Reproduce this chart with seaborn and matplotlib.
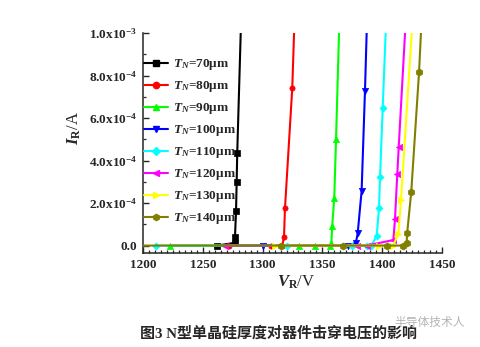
import matplotlib
matplotlib.use("Agg")
import matplotlib.pyplot as plt
from matplotlib.lines import Line2D
from matplotlib.ticker import MultipleLocator, FixedLocator, FixedFormatter
import seaborn as sns

sns.set_style("ticks")
plt.rcParams['font.family'] = ['Liberation Serif', 'Noto Sans CJK SC']
plt.rcParams['font.weight'] = 'bold'
plt.rcParams['mathtext.fontset'] = 'custom'
plt.rcParams['mathtext.rm'] = 'Liberation Serif:bold'
plt.rcParams['mathtext.it'] = 'Liberation Serif:italic:bold'
plt.rcParams['mathtext.bf'] = 'Liberation Serif:bold'

# ---------------- data (V in volts, I in amperes) ----------------
V70 = [1262, 1276.9, 1276.9, 1277.8, 1278.3, 1278.8, 1281.7]
I70 = [0, 1.3e-5, 3.9e-5, 1.64e-4, 2.97e-4, 4.37e-4, 1.0e-3]

V80 = [1272, 1307, 1316.5, 1317.9, 1318.7, 1324.8, 1326.3]
I80 = [0, 0, 0, 4.1e-5, 1.75e-4, 7.40e-4, 1.0e-3]

V90 = [1222.6, 1330.4, 1343.8, 1356.4, 1357.5, 1358.2, 1359.9, 1361.4, 1363.9]
I90 = [0, 0, 0, 0, 1.2e-5, 9.3e-5, 2.22e-4, 5.00e-4, 1.0e-3]

V100 = [1300.6, 1371.5, 1378.0, 1379.5, 1382.8, 1385.6, 1387.0]
I100 = [0, 0, 1.3e-5, 5.7e-5, 2.58e-4, 7.28e-4, 1.0e-3]

V110 = [1211, 1320, 1375, 1387, 1391, 1395.4, 1397.3, 1398.2, 1400.4, 1402.9]
I110 = [0, 0, 0, 0, 0, 4.5e-5, 1.75e-4, 3.24e-4, 6.46e-4, 1.0e-3]

V120 = [1268.6, 1378.7, 1387, 1409.3, 1410.7, 1412.6, 1413.8, 1419.1]
I120 = [0, 0, 0, 2.6e-5, 1.25e-4, 3.36e-4, 4.62e-4, 1.0e-3]

V130 = [1310.4, 1397, 1409, 1413.5, 1415.7, 1424.7]
I130 = [0, 0, 0, 5.3e-5, 2.14e-4, 1.0e-3]

V140 = [1200, 1315, 1367, 1403.7, 1417.7, 1420.4, 1420.9, 1424.3, 1430.8, 1432.4]
I140 = [0, 0, 0, 0, 0, 1.3e-5, 6.0e-5, 2.53e-4, 8.15e-4, 1.0e-3]

labels = [r"$T_N$=70μm", r"$T_N$=80μm", r"$T_N$=90μm", r"$T_N$=100μm",
          r"$T_N$=110μm", r"$T_N$=120μm", r"$T_N$=130μm", r"$T_N$=140μm"]

x_ticks = [1200, 1250, 1300, 1350, 1400, 1450]
x_tick_labels = ["1200", "1250", "1300", "1350", "1400", "1450"]
y_ticks = [0, 2e-4, 4e-4, 6e-4, 8e-4, 1e-3]
y_tick_labels = ["0.0", "2.0x10$^{-4}$", "4.0x10$^{-4}$", "6.0x10$^{-4}$",
                 "8.0x10$^{-4}$", "1.0x10$^{-3}$"]

series = [(V70, I70), (V80, I80), (V90, I90), (V100, I100),
          (V110, I110), (V120, I120), (V130, I130), (V140, I140)]
colors = ['#000000', '#FF0000', '#00FF00', '#0000FF',
          '#00FFFF', '#FF00FF', '#FFFF00', '#808000']
markers = ['s', 'o', '^', 'v', 'D', '<', '>', 'h']
msizes = [13, 14, 20, 20, 13, 20, 20, 26]

# ---------------- figure ----------------
fig = plt.figure(figsize=(4.8, 3.47), dpi=100)
ax = fig.add_axes([143/480, 1-253/347, (442-143)/480, (253-33)/347])

for k, ((V, I), c, m, s) in enumerate(zip(series, colors, markers, msizes)):
    sns.lineplot(x=V, y=I, ax=ax, color=c, lw=1.5, sort=False,
                 estimator=None, zorder=3+2*k, legend=False)
    mv = [v for v, i in zip(V, I) if v > 1200 and i < 1e-3]
    mi = [i for v, i in zip(V, I) if v > 1200 and i < 1e-3]
    sns.scatterplot(x=mv, y=mi, ax=ax, color=c, marker=m, s=s,
                    edgecolor=c, linewidth=0.5, zorder=4+2*k, legend=False)

ax.set_xlim(1200, 1450)
ax.set_ylim(-3.5e-5, 1.0e-3)
ax.xaxis.set_major_locator(FixedLocator(x_ticks))
ax.xaxis.set_major_formatter(FixedFormatter(x_tick_labels))
ax.xaxis.set_minor_locator(MultipleLocator(5))
ax.yaxis.set_major_locator(FixedLocator(y_ticks))
ax.yaxis.set_major_formatter(FixedFormatter(y_tick_labels))
ax.yaxis.set_minor_locator(MultipleLocator(1e-4))

ax.spines['top'].set_visible(False)
ax.spines['right'].set_visible(False)
for sp in ['left', 'bottom']:
    ax.spines[sp].set_linewidth(1.1)
ax.tick_params(which='major', direction='in', length=4, width=1.0,
               labelsize=9.5, pad=4)
ax.tick_params(which='minor', direction='in', length=2.5, width=0.9)
for t in ax.get_xticklabels() + ax.get_yticklabels():
    t.set_fontweight('bold')

ax.set_xlabel(r"$V_\mathrm{R}$/V", fontsize=12)
ax.set_ylabel(r"$I_\mathrm{R}$/A", fontsize=12)
ax.xaxis.set_label_coords(0.512, -0.095)
ax.yaxis.set_label_coords(-0.20, 0.568)

handles = [Line2D([], [], color=c, marker=m, lw=1.5, ms=4.5, markeredgecolor=c)
           for c, m in zip(colors, markers)]
leg = ax.legend(handles, labels, loc='upper left', bbox_to_anchor=(0.003, 0.89),
                frameon=False, fontsize=9.5, handlelength=1.8,
                handletextpad=0.4, labelspacing=0.53, borderpad=0,
                borderaxespad=0)

fig.text(0.58, 1-333/347, "图3 N型单晶硅厚度对器件击穿电压的影响",
         ha='center', va='center', fontsize=10.8, fontweight='bold',
         family=['Liberation Serif', 'Noto Sans CJK SC'])
fig.text(0.895, 1-322/347, "半导体技术人", ha='center', va='center',
         fontsize=8.5, color='#b4b4b4', fontweight='normal',
         family=['Noto Sans CJK SC'])

fig.savefig("out.png", dpi=100)
